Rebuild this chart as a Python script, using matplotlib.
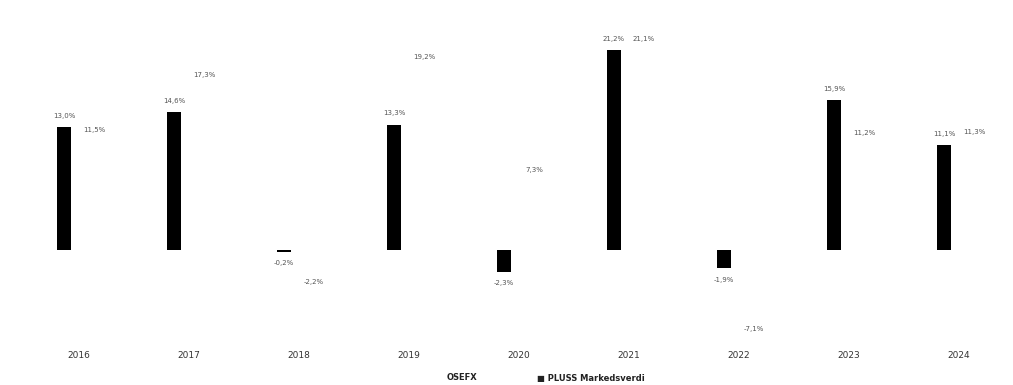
import numpy as np
import matplotlib.pyplot as plt

years = ["2016", "2017", "2018", "2019", "2020", "2021", "2022", "2023", "2024"]
osefx = [13.0, 14.6, -0.2, 13.3, -2.3, 21.2, -1.9, 15.9, 11.1]
pluss = [11.5, 17.3, -2.2, 19.2, 7.3, 21.1, -7.1, 11.2, 11.3]

plt.rcParams["font.family"] = ["DejaVu Sans"]

fig = plt.figure(figsize=(10.13, 3.85), dpi=100)
ax = fig.add_axes([24 / 1013, 1 - 340 / 385, 990 / 1013, 310 / 385])

x = np.arange(len(years))
off = 0.136
w = 0.13

b1 = ax.bar(x - off, osefx, width=w, color="black")
b2 = ax.bar(x + off, pluss, width=w, color="white")

fmt = lambda v: f"{v:.1f}%".replace(".", ",")
ax.bar_label(b1, labels=[fmt(v) for v in osefx], padding=6, fontsize=5, color="#555555")
ax.bar_label(b2, labels=[fmt(v) for v in pluss], padding=6, fontsize=5, color="#555555")

ax.set_xlim(-0.5, len(years) - 0.5)
ax.set_ylim(-9.5, 23.3)
ax.set_xticks(x)
ax.set_xticklabels(years, fontsize=6.5, color="#333333")
ax.tick_params(axis="x", length=0, pad=8)
ax.set_yticks([])
for s in ax.spines.values():
    s.set_visible(False)

fig.text(447 / 1013, 1 - 378 / 385, "OSEFX", fontsize=6, fontweight="bold",
         va="center", ha="left", color="#222222")
fig.text(537 / 1013, 1 - 378 / 385, "\u25a0 PLUSS Markedsverdi", fontsize=6,
         fontweight="bold", va="center", ha="left", color="#222222")

fig.savefig("out.png", dpi=100)
